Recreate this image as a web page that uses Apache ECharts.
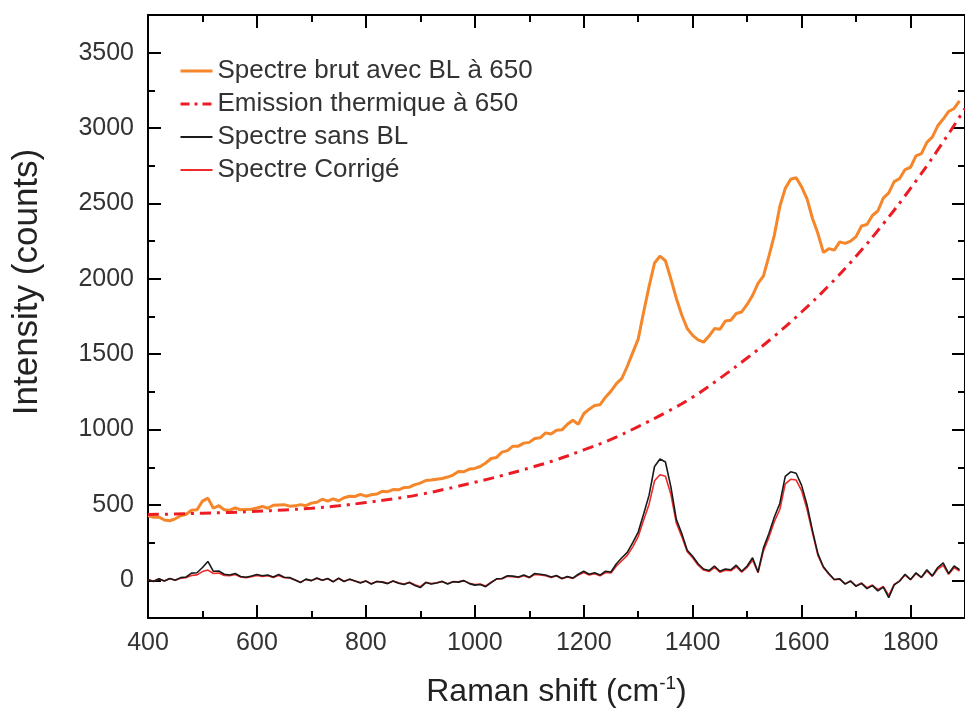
<!DOCTYPE html>
<html>
<head>
<meta charset="utf-8">
<script src="https://cdn.jsdelivr.net/npm/echarts@6/dist/echarts.min.js"></script>
<style>
  html, body { margin: 0; padding: 0; background: #fff; }
  #chart { width: 965px; height: 713px; }
</style>
</head>
<body>
<div id="chart"></div>
<script>
// Raman shift grid (cm-1)
const shift = [
  400, 410, 420, 430, 440, 450, 460, 470, 480, 490,
  500, 510, 520, 530, 540, 550, 560, 570, 580, 590,
  600, 610, 620, 630, 640, 650, 660, 670, 680, 690,
  700, 710, 720, 730, 740, 750, 760, 770, 780, 790,
  800, 810, 820, 830, 840, 850, 860, 870, 880, 890,
  900, 910, 920, 930, 940, 950, 960, 970, 980, 990,
  1000, 1010, 1020, 1030, 1040, 1050, 1060, 1070, 1080, 1090,
  1100, 1110, 1120, 1130, 1140, 1150, 1160, 1170, 1180, 1190,
  1200, 1210, 1220, 1230, 1240, 1250, 1260, 1270, 1280, 1290,
  1300, 1310, 1320, 1330, 1340, 1350, 1360, 1370, 1380, 1390,
  1400, 1410, 1420, 1430, 1440, 1450, 1460, 1470, 1480, 1490,
  1500, 1510, 1520, 1530, 1540, 1550, 1560, 1570, 1580, 1590,
  1600, 1610, 1620, 1630, 1640, 1650, 1660, 1670, 1680, 1690,
  1700, 1710, 1720, 1730, 1740, 1750, 1760, 1770, 1780, 1790,
  1800, 1810, 1820, 1830, 1840, 1850, 1860, 1870, 1880, 1890
];

// raw spectrum with baseline (orange)
const rawBL = [
  430, 418, 420, 400, 395, 408, 428, 438, 465, 468,
  525, 545, 478, 495, 468, 465, 480, 468, 470, 472,
  480, 490, 478, 498, 500, 502, 492, 494, 502, 495,
  512, 518, 538, 525, 540, 528, 548, 558, 556, 570,
  558, 568, 572, 590, 588, 602, 600, 615, 618, 635,
  645, 662, 665, 670, 675, 685, 698, 722, 720, 738,
  742, 755, 778, 808, 815, 850, 860, 890, 890, 910,
  915, 940, 945, 978, 970, 995, 998, 1035, 1062, 1035,
  1105, 1135, 1160, 1165, 1215, 1255, 1305, 1340, 1420, 1510,
  1600, 1780, 1950, 2105, 2150, 2120, 2000, 1870, 1760, 1670,
  1625, 1595, 1580, 1620, 1670, 1665, 1720, 1725, 1770, 1780,
  1830, 1890, 1970, 2020, 2150, 2290, 2480, 2600, 2660, 2670,
  2610, 2530, 2400, 2300, 2175, 2200, 2190, 2245, 2235, 2250,
  2280, 2350, 2360, 2420, 2450, 2535, 2570, 2645, 2665, 2725,
  2740, 2815, 2830, 2905, 2940, 3015, 3060, 3110, 3130, 3180
];

// spectrum without baseline (black)
const sansBL = [
  5, -8, 10, -5, 12, 0, 18, 22, 48, 50,
  85, 125, 60, 62, 40, 35, 45, 25, 20, 28,
  38, 30, 35, 22, 38, 20, 18, 2, -15, 8,
  -2, 15, 0, 12, -10, 14, -8, 8, -5, -18,
  -5, -25, -8, -12, -22, -5, -20, -28, -15, -35,
  -48, -15, -25, -18, -8, -25, -10, -12, -2, -22,
  -32, -28, -42, -15, 10, 12, 30, 28, 22, 35,
  20, 45, 40, 35, 22, 32, 12, 25, 15, 40,
  60, 40, 50, 35, 60, 55, 110, 150, 185, 250,
  320, 440, 565, 755, 805, 785, 620, 404, 310, 200,
  160, 110, 75, 65, 95, 60, 75, 70, 100, 60,
  95, 150, 55, 215, 310, 420, 510, 690, 720, 710,
  630, 500, 330, 175, 90, 45, 5, 10, -25, -5,
  -40, -20, -55, -35, -70, -45, -115, -30, -5, 40,
  5, 50, 20, 70, 30, 85, 115, 45, 95, 70
];

// corrected spectrum (red)
const corrige = [
  4, -6, 8, -4, 10, 2, 14, 18, 32, 36,
  58, 68, 45, 48, 32, 30, 38, 22, 18, 24,
  32, 26, 30, 18, 32, 17, 15, 2, -12, 6,
  -2, 12, 0, 10, -8, 12, -6, 6, -4, -15,
  -5, -22, -8, -10, -19, -5, -17, -24, -13, -30,
  -42, -13, -22, -16, -7, -22, -9, -10, -2, -19,
  -28, -25, -37, -13, 8, 10, 26, 24, 19, 30,
  17, 39, 35, 30, 19, 28, 10, 22, 13, 35,
  52, 35, 44, 30, 52, 48, 95, 130, 165, 222,
  290, 400, 505, 660, 700, 690, 570, 380, 290, 190,
  150, 100, 68, 58, 85, 54, 67, 63, 90, 54,
  85, 135, 50, 195, 285, 390, 470, 640, 670, 665,
  595, 470, 315, 165, 85, 40, 4, 8, -22, -5,
  -36, -18, -49, -31, -62, -40, -100, -27, -4, 35,
  4, 44, 18, 62, 26, 75, 100, 40, 84, 62
];

// thermal emission fit (dash-dot)
const thermShift = [400, 450, 500, 550, 600, 650, 700, 750, 800, 850, 900, 950, 1000, 1050, 1100,
  1150, 1200, 1250, 1300, 1350, 1400, 1450, 1500, 1550, 1600, 1650, 1700, 1750, 1800, 1850, 1900];
const thermal = [437, 440, 445, 450, 458, 467, 478, 494, 516, 540, 570, 608, 650, 695, 745,
  800, 865, 935, 1020, 1112, 1215, 1340, 1475, 1620, 1780, 1955, 2150, 2365, 2600, 2855, 3130];

const names = ['Spectre brut avec BL à 650', 'Emission thermique à 650', 'Spectre sans BL', 'Spectre Corrigé'];

const FONT = "'Liberation Sans', Arial, sans-serif";

function pairs(xs, ys) {
  return xs.map((x, i) => [x, ys[i]]);
}

function xAx(pos) {
  return {
    type: 'value', position: pos, min: 400, max: 1900, interval: 200,
    axisLine: { onZero: false, lineStyle: { color: '#000', width: 2 } },
    axisTick: { inside: true, length: 13, lineStyle: { color: '#000', width: 2 } },
    minorTick: { show: true, splitNumber: 2, length: 7, lineStyle: { color: '#000', width: 2 } },
    splitLine: { show: false },
    axisLabel: {
      show: pos === 'bottom', fontSize: 25, color: '#333', margin: 13, fontFamily: FONT,
      formatter: v => String(v)
    }
  };
}

function yAx(pos, minor) {
  return {
    type: 'value', position: pos, min: -250, max: 3750,
    splitNumber: minor ? undefined : 8,
    interval: minor ? 250 : undefined,
    axisLine: { show: !minor, onZero: false, lineStyle: { color: '#000', width: 2 } },
    axisTick: { inside: true, length: minor ? 7 : 13, lineStyle: { color: '#000', width: 2 } },
    splitLine: { show: false },
    axisLabel: {
      show: pos === 'left' && !minor, fontSize: 25, color: '#333', margin: 14, fontFamily: FONT,
      formatter: v => (v % 500 === 0 ? String(v) : '')
    }
  };
}

const xMain = xAx('bottom');
xMain.name = '{n|Raman shift (cm}{sup|-1}{n|)}';
xMain.nameLocation = 'middle';
xMain.nameGap = 56;
xMain.nameTextStyle = {
  rich: {
    n: { fontSize: 32, color: '#222', fontFamily: FONT, lineHeight: 36 },
    sup: { fontSize: 19, color: '#222', fontFamily: FONT, verticalAlign: 'top', lineHeight: 36, padding: [0, 0, 14, 0] }
  }
};

const chart = echarts.init(document.getElementById('chart'), null, { renderer: 'canvas' });

chart.setOption({
  animation: false,
  backgroundColor: '#fff',
  grid: { left: 148, top: 15, width: 823, height: 603, containLabel: false },
  legend: {
    orient: 'vertical', left: 174, top: 53,
    itemWidth: 32, itemHeight: 14, itemGap: 7,
    itemStyle: { opacity: 0 },
    textStyle: { fontSize: 26, color: '#333', fontFamily: FONT },
    data: [
      { name: names[0], lineStyle: { width: 3 } },
      { name: names[1], lineStyle: { width: 3, type: [9, 5, 3, 5] } },
      { name: names[2], lineStyle: { width: 2 } },
      { name: names[3], lineStyle: { width: 2 } }
    ]
  },
  graphic: [{
    type: 'text', x: 27, y: 282, rotation: Math.PI / 2,
    style: {
      text: 'Intensity (counts)', fontSize: 35, fontFamily: FONT, fill: '#222',
      textAlign: 'center', textVerticalAlign: 'middle'
    }
  }],
  xAxis: [xMain, xAx('top')],
  yAxis: [yAx('left', false), yAx('left', true), yAx('right', false), yAx('right', true)],
  series: [
    {
      name: names[0], type: 'line', data: pairs(shift, rawBL), symbol: 'none', z: 2,
      lineStyle: { color: '#f5862a', width: 3 }, itemStyle: { color: '#f5862a' }
    },
    {
      name: names[1], type: 'line', data: pairs(thermShift, thermal), symbol: 'none', smooth: true, z: 3,
      lineStyle: { color: '#ec1c24', width: 3, type: [11, 6, 3, 6] }, itemStyle: { color: '#ec1c24' }
    },
    {
      name: names[2], type: 'line', data: pairs(shift, sansBL), symbol: 'none', z: 5,
      lineStyle: { color: '#1a1a1a', width: 1.6 }, itemStyle: { color: '#1a1a1a' }
    },
    {
      name: names[3], type: 'line', data: pairs(shift, corrige), symbol: 'none', z: 4,
      lineStyle: { color: '#ee2a2a', width: 1.6 }, itemStyle: { color: '#ee2a2a' }
    }
  ]
});
</script>
</body>
</html>
